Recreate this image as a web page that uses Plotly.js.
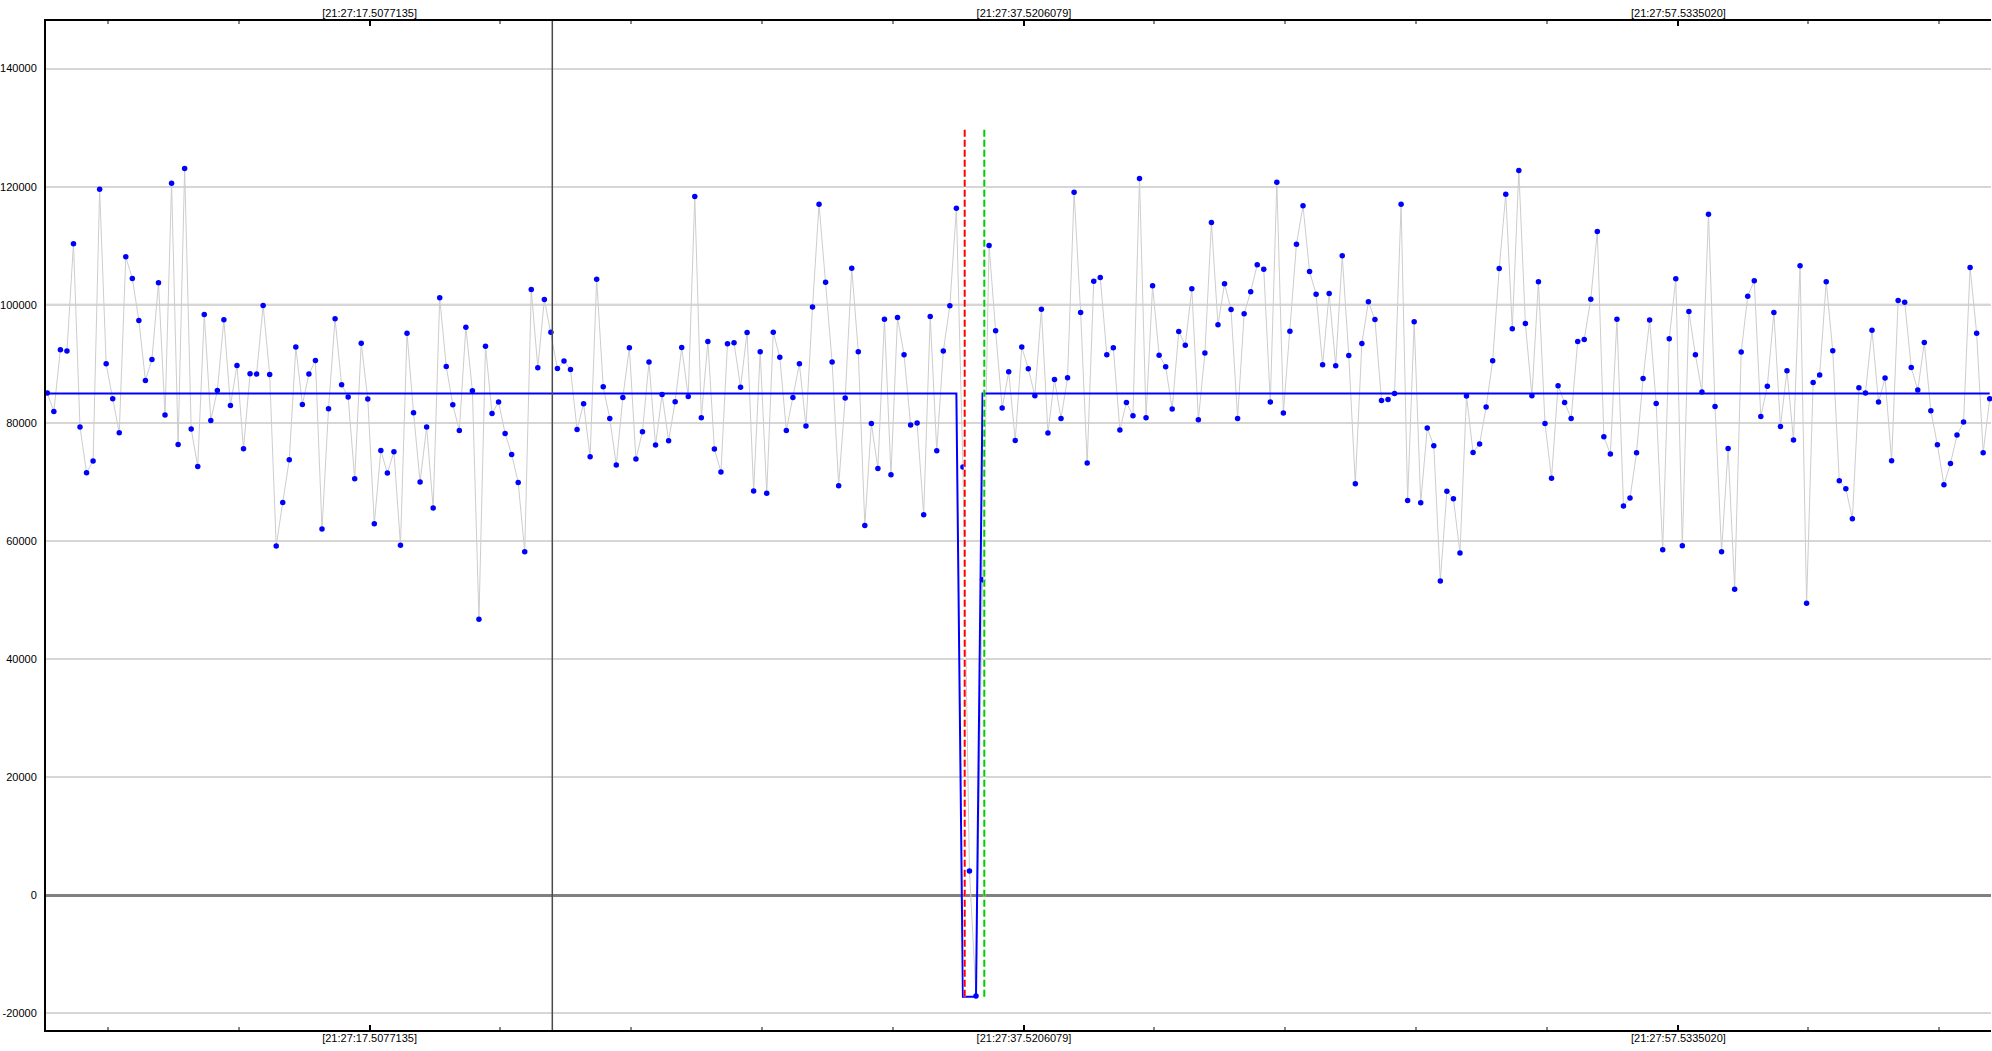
<!DOCTYPE html>
<html>
<head>
<meta charset="utf-8">
<script src="https://cdn.plot.ly/plotly-3.0.1.min.js"></script>
<style>
  html, body { margin: 0; padding: 0; background: #ffffff; }
  #chart { width: 1992px; height: 1051px; }
</style>
</head>
<body>
<div id="chart"></div>
<script>
// ---- data ----
// sampling: first sample time (s after 21:27:00) and sample interval (s)
const sampleStart = 7.6526;
const sampleInterval = 0.2;

const valuesPart1 = [
  85050, 81950, 92380, 92160, 110330, 79290, 71560, 73540, 119580, 90010,
  84090, 78340, 108120, 104460, 97350, 87190, 90750, 103720, 81330, 120590,
  76360, 123080, 78960, 72640, 98360, 80420, 85500, 97460, 82960, 89730,
  75630, 88320, 88270, 99890, 88210, 59150, 66540, 73770, 92840, 83130,
  88270, 90580, 62030, 82400, 97630, 86460, 84370, 70550, 93510, 84030,
  62930, 75340, 71510, 75120, 59270, 95200, 81720, 69990, 79290, 65580,
  101190, 89560, 83070, 78730, 96220, 85440, 46740, 93000, 81610, 83530,
  78220, 74670, 69930, 58190, 102600, 89340
];
const valuesPart2 = [
  100900, 95370, 89220, 90470, 89060, 78900, 83240, 74270, 104340, 86120,
  80760, 72860, 84320, 92720, 73880, 78500, 90300, 76250, 84820, 76980,
  83580, 92780, 84480, 118340, 80870, 93790, 75570, 71680, 93400, 93570,
  86060, 95320, 68460, 92050, 68070, 95370, 91140, 78730, 84320, 90010,
  79460, 99610, 117040, 103840, 90300, 69360, 84200, 106210, 92050, 62650,
  79910, 72300, 97570, 71230, 97860, 91540, 79630, 79970, 64460, 98030,
  75290, 92160, 99830, 116360, 72520, 4120, -17050, 53450, 110040, 95600,
  82510, 88660, 77040, 92840, 89170
];
const valuesPart3 = [
  84600, 99270, 78280, 87360, 80760, 87640, 119070, 98700, 73200, 104010,
  104630, 91540, 92720, 78790, 83470, 81210, 121380, 80870, 103220, 91480,
  89510, 82340, 95490, 93170, 102710, 80540, 91820, 113940, 96620, 103550,
  99210, 80760, 98480, 102200, 106770, 106040, 83530, 120760, 81660, 95540,
  110270, 116760, 105640, 101810, 89840, 101920, 89680, 108290, 91420, 69700,
  93460, 100510, 97520, 83810, 83980, 84990, 117040, 66880, 97120, 66490,
  79130, 76130, 53230, 68410, 67160, 57970, 84540, 75010, 76420, 82680,
  90520, 106150, 118730, 95940, 122740, 96840
];
const valuesPart4 = [
  84600, 103890, 79910, 70610, 86290, 83470, 80760, 93790, 94130, 100960,
  112410, 77660, 74720, 97570, 65920, 67280, 74950, 87530, 97410, 83300,
  58530, 94250, 104400, 59210, 98870, 91540, 85220, 115350, 82790, 58190,
  75680, 51820, 91990, 101470, 104060, 81100, 86230, 98700, 79410, 88830,
  77090, 106600, 49450, 86850, 88100, 103890, 92210, 70210, 68860, 63780,
  85950, 85050, 95710, 83530, 87590, 73600, 100730, 100450, 89390, 85560,
  93620, 82060, 76300, 69530, 73140, 77940, 80140, 106320, 95200, 74950,
  84090
];

// blue level line: sample indices (0-based) where the level changes, and its values
const levelSampleIdx = [0, 139, 140, 142, 143, 297];
const levelValues    = [85000, 85000, -17150, -17150, 85000, 85000];

// vertical marker lines (time in s)
const cursorTime = 23.096;
const startMarkTime = 35.707;
const endMarkTime = 36.3065;
const markLineTop = 130000;
const markLineBottom = -17150;

// axis ticks
const xTickVals = [17.5077135, 37.5206079, 57.5335020];
const xTickText = ['[21:27:17.5077135]', '[21:27:37.5206079]', '[21:27:57.5335020]'];
const yTickVals = [-20000, 0, 20000, 40000, 60000, 80000, 100000, 120000, 140000];
const yTickText = ['-20000', '0', '20000', '40000', '60000', '80000', '100000', '120000', '140000'];

// ---- build ----
const values = valuesPart1.concat(valuesPart2, valuesPart3, valuesPart4);
const times = values.map((_, i) => sampleStart + i * sampleInterval);
const levelTimes = levelSampleIdx.map(i => times[i]);

const xRange = [7.6126, 67.092];
const yRange = [-22800, 148060];

const traces = [
  {
    x: times, y: values, type: 'scatter', mode: 'lines',
    line: { color: '#cdcdcd', width: 1 }, hoverinfo: 'skip', showlegend: false
  },
  {
    x: levelTimes, y: levelValues, type: 'scatter', mode: 'lines',
    line: { color: '#0000ff', width: 2 }, hoverinfo: 'skip', showlegend: false
  },
  {
    x: times, y: values, type: 'scatter', mode: 'markers',
    marker: { color: '#0000ff', size: 5.5 }, hoverinfo: 'skip', showlegend: false,
    cliponaxis: false
  },
  // white underlay + red dashed
  {
    x: [startMarkTime, startMarkTime], y: [markLineBottom, markLineTop], type: 'scatter', mode: 'lines',
    line: { color: '#ffffff', width: 2 }, hoverinfo: 'skip', showlegend: false
  },
  {
    x: [startMarkTime, startMarkTime], y: [markLineBottom, markLineTop], type: 'scatter', mode: 'lines',
    line: { color: '#ff0000', width: 2, dash: '7px,3px' }, hoverinfo: 'skip', showlegend: false
  },
  // white underlay + green dashed
  {
    x: [endMarkTime, endMarkTime], y: [markLineBottom, markLineTop], type: 'scatter', mode: 'lines',
    line: { color: '#ffffff', width: 2 }, hoverinfo: 'skip', showlegend: false
  },
  {
    x: [endMarkTime, endMarkTime], y: [markLineBottom, markLineTop], type: 'scatter', mode: 'lines',
    line: { color: '#00cc00', width: 2, dash: '7px,3px' }, hoverinfo: 'skip', showlegend: false
  },
  // invisible trace on the top axis so it is drawn
  {
    x: [xTickVals[0]], y: [0], xaxis: 'x2', type: 'scatter', mode: 'markers',
    marker: { opacity: 0 }, hoverinfo: 'skip', showlegend: false
  }
];

const xAxisCommon = {
  range: xRange,
  tickmode: 'array', tickvals: xTickVals, ticktext: xTickText,
  ticks: 'inside', ticklen: 5, tickwidth: 2, tickcolor: '#000000',
  showgrid: false, zeroline: false,
  showline: true, linecolor: '#000000', linewidth: 2,
  tickfont: { family: 'Liberation Sans, Arial, sans-serif', size: 11, color: '#000000' },
  minor: { tickmode: 'linear', tick0: xTickVals[0], dtick: 4, ticks: 'inside', ticklen: 3, tickwidth: 2, tickcolor: '#888888', showgrid: false },
  fixedrange: true
};

const layout = {
  width: 1992, height: 1051,
  margin: { l: 46, r: 1, t: 21, b: 21, pad: 0 },
  paper_bgcolor: '#ffffff', plot_bgcolor: '#ffffff',
  showlegend: false,
  font: { family: 'Liberation Sans, Arial, sans-serif', size: 11, color: '#000000' },
  xaxis: Object.assign({}, xAxisCommon, { side: 'bottom', ticklabelstandoff: -3 }),
  xaxis2: Object.assign({}, xAxisCommon, { side: 'top', overlaying: 'x', matches: 'x', ticklabelstandoff: -2 }),
  yaxis: {
    range: yRange,
    tickmode: 'array', tickvals: yTickVals, ticktext: yTickText,
    ticks: '', ticklabelstandoff: 5,
    showgrid: true, gridcolor: '#d6d6d6', gridwidth: 2,
    zeroline: true, zerolinecolor: '#808080', zerolinewidth: 2.5,
    showline: true, linecolor: '#000000', linewidth: 2,
    tickfont: { family: 'Liberation Sans, Arial, sans-serif', size: 11, color: '#000000' },
    fixedrange: true
  },
  shapes: [
    { type: 'line', xref: 'paper', yref: 'y', x0: 0, x1: 1, y0: 100000, y1: 100000,
      line: { color: '#c0c0c0', width: 2 }, layer: 'below' },
    { type: 'line', xref: 'x', yref: 'paper', x0: cursorTime, x1: cursorTime, y0: 0, y1: 1,
      line: { color: '#4a4a4a', width: 1.5 }, layer: 'above' }
  ]
};

Plotly.newPlot('chart', traces, layout, { staticPlot: true, displayModeBar: false });
</script>
</body>
</html>
